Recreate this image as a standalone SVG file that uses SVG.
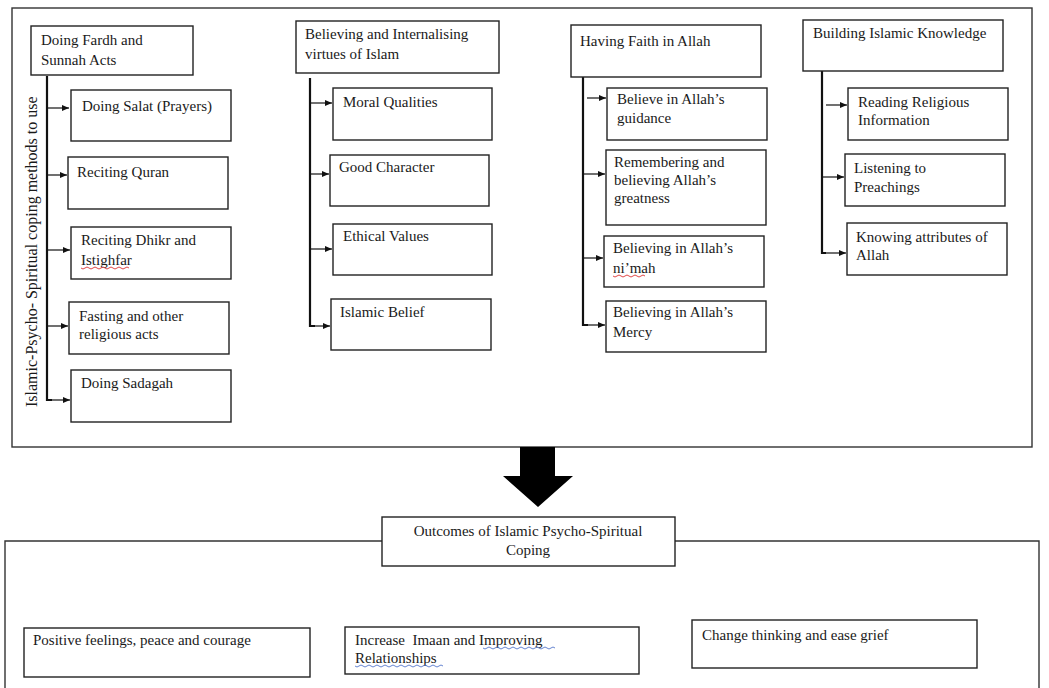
<svg xmlns="http://www.w3.org/2000/svg" width="1049" height="688" viewBox="0 0 1049 688">
<defs>
<marker id="ah" markerUnits="userSpaceOnUse" markerWidth="8" markerHeight="8" refX="7" refY="4" orient="auto">
<path d="M0,1 L7,4 L0,7 Z" fill="#111"/>
</marker>
<style>
.bx{fill:#fff;stroke:#222;stroke-width:1.4}
.fr{fill:none;stroke:#333;stroke-width:1.4}
.t{font-family:"Liberation Serif","Times New Roman",serif;font-size:15px;fill:#1a1a1a}
.tc{text-anchor:middle}
.vl{fill:none;stroke:#111;stroke-width:2.2}
.ar{fill:none;stroke:#111;stroke-width:1.2;marker-end:url(#ah)}
.sq{fill:none;stroke-width:0.9}
</style>
</defs>
<rect width="1049" height="688" fill="#fff"/>

<!-- frames -->
<g id="frame-top"><rect class="fr" x="12" y="8" width="1020" height="439"/></g>
<g id="frame-bottom"><path class="fr" d="M382,541 H5 V690 M675,541 H1039 V690"/></g>

<!-- connectors -->
<g id="connectors">
<path class="vl" d="M47,76 V400 H52"/>
<path class="ar" d="M48,108 H69"/>
<path class="ar" d="M48,175 H67"/>
<path class="ar" d="M48,250 H70"/>
<path class="ar" d="M48,326 H68"/>
<path class="ar" d="M50,400 H70"/>

<path class="vl" d="M310,78 V326 H315"/>
<path class="ar" d="M311,103 H332"/>
<path class="ar" d="M311,174 H329"/>
<path class="ar" d="M311,249 H332"/>
<path class="ar" d="M313,326 H330"/>

<path class="vl" d="M583,77 V325 H588"/>
<path class="ar" d="M587,98 H606"/>
<path class="ar" d="M584,174 H605"/>
<path class="ar" d="M584,258 H603"/>
<path class="ar" d="M586,325 H605"/>

<path class="vl" d="M822,71 V253 H826"/>
<path class="ar" d="M826,105 H847"/>
<path class="ar" d="M823,177 H844"/>
<path class="ar" d="M825,253 H846"/>

<path id="big-arrow" d="M520,447 H555 V476 H573 L538,507 L503,476 H520 Z" fill="#000"/>
</g>

<!-- side label -->
<text class="t" style="font-size:16px" transform="translate(37,407) rotate(-90)">Islamic-Psycho- Spiritual coping methods to use</text>

<!-- column 1 -->
<g id="n-fardh"><rect class="bx" x="31" y="26" width="162" height="49"/><text class="t" x="41" y="45">Doing Fardh and</text><text class="t" x="41" y="65">Sunnah Acts</text></g>
<g id="n-salat"><rect class="bx" x="71" y="90" width="160" height="51"/><text class="t" x="82" y="111">Doing Salat (Prayers)</text></g>
<g id="n-quran"><rect class="bx" x="68" y="157" width="160" height="52"/><text class="t" x="77" y="177">Reciting Quran</text></g>
<g id="n-dhikr"><rect class="bx" x="71" y="227" width="160" height="52"/><text class="t" x="81" y="245">Reciting Dhikr and</text><text class="t" x="81" y="265">Istighfar</text><path class="sq" stroke="#d33" d="M81,268 q2,2 4,0 t4,0 t4,0 t4,0 t4,0 t4,0 t4,0 t4,0 t4,0 t4,0 t4,0 t4,0"/></g>
<g id="n-fasting"><rect class="bx" x="69" y="302" width="160" height="52"/><text class="t" x="79" y="321">Fasting and other</text><text class="t" x="79" y="339">religious acts</text></g>
<g id="n-sadagah"><rect class="bx" x="71" y="370" width="160" height="52"/><text class="t" x="81" y="388">Doing Sadagah</text></g>

<!-- column 2 -->
<g id="n-virtues"><rect class="bx" x="296" y="21" width="203" height="52"/><text class="t" x="305" y="39">Believing and Internalising</text><text class="t" x="305" y="59">virtues of Islam</text></g>
<g id="n-moral"><rect class="bx" x="333" y="88" width="159" height="52"/><text class="t" x="343" y="107">Moral Qualities</text></g>
<g id="n-character"><rect class="bx" x="330" y="155" width="159" height="51"/><text class="t" x="339" y="172">Good Character</text></g>
<g id="n-ethical"><rect class="bx" x="333" y="224" width="159" height="51"/><text class="t" x="343" y="241">Ethical Values</text></g>
<g id="n-belief"><rect class="bx" x="331" y="299" width="160" height="51"/><text class="t" x="340" y="317">Islamic Belief</text></g>

<!-- column 3 -->
<g id="n-faith"><rect class="bx" x="571" y="25" width="190" height="52"/><text class="t" x="580" y="46">Having Faith in Allah</text></g>
<g id="n-guidance"><rect class="bx" x="607" y="88" width="160" height="52"/><text class="t" x="617" y="104">Believe in Allah’s</text><text class="t" x="617" y="123">guidance</text></g>
<g id="n-greatness"><rect class="bx" x="606" y="150" width="160" height="75"/><text class="t" x="614" y="167">Remembering and</text><text class="t" x="614" y="185">believing Allah’s</text><text class="t" x="614" y="203">greatness</text></g>
<g id="n-nimah"><rect class="bx" x="604" y="236" width="160" height="51"/><text class="t" x="613" y="253">Believing in Allah’s</text><text class="t" x="613" y="273">ni’mah</text><path class="sq" stroke="#d33" d="M613,276 q2,2 4,0 t4,0 t4,0 t4,0 t4,0 t4,0 t4,0 t4,0"/></g>
<g id="n-mercy"><rect class="bx" x="606" y="301" width="160" height="51"/><text class="t" x="613" y="317">Believing in Allah’s</text><text class="t" x="613" y="337">Mercy</text></g>

<!-- column 4 -->
<g id="n-knowledge"><rect class="bx" x="803" y="20" width="200" height="51"/><text class="t" x="813" y="38">Building Islamic Knowledge</text></g>
<g id="n-reading"><rect class="bx" x="848" y="88" width="160" height="52"/><text class="t" x="858" y="107">Reading Religious</text><text class="t" x="858" y="125">Information</text></g>
<g id="n-listening"><rect class="bx" x="845" y="154" width="160" height="52"/><text class="t" x="854" y="173">Listening to</text><text class="t" x="854" y="192">Preachings</text></g>
<g id="n-attributes"><rect class="bx" x="847" y="223" width="160" height="52"/><text class="t" x="856" y="242">Knowing attributes of</text><text class="t" x="856" y="260">Allah</text></g>

<!-- outcomes -->
<g id="n-outcomes"><rect class="bx" x="382" y="517" width="293" height="49"/><text class="t tc" x="528" y="536">Outcomes of Islamic Psycho-Spiritual</text><text class="t tc" x="528" y="555">Coping</text></g>
<g id="n-positive"><rect class="bx" x="24" y="628" width="286" height="49"/><text class="t" x="33" y="645">Positive feelings, peace and courage</text></g>
<g id="n-imaan"><rect class="bx" x="345" y="627" width="294" height="47"/><text class="t" x="355" y="645">Increase&#160; Imaan and Improving</text><text class="t" x="355" y="663">Relationships</text><path class="sq" stroke="#57c" d="M483,648 q2,2 4,0 t4,0 t4,0 t4,0 t4,0 t4,0 t4,0 t4,0 t4,0 t4,0 t4,0 t4,0 t4,0 t4,0 t4,0 t4,0 t4,0 t4,0 M355,666 q2,2 4,0 t4,0 t4,0 t4,0 t4,0 t4,0 t4,0 t4,0 t4,0 t4,0 t4,0 t4,0 t4,0 t4,0 t4,0 t4,0 t4,0 t4,0 t4,0 t4,0 t4,0 t4,0"/></g>
<g id="n-change"><rect class="bx" x="692" y="620" width="285" height="48"/><text class="t" x="702" y="640">Change thinking and ease grief</text></g>
</svg>
